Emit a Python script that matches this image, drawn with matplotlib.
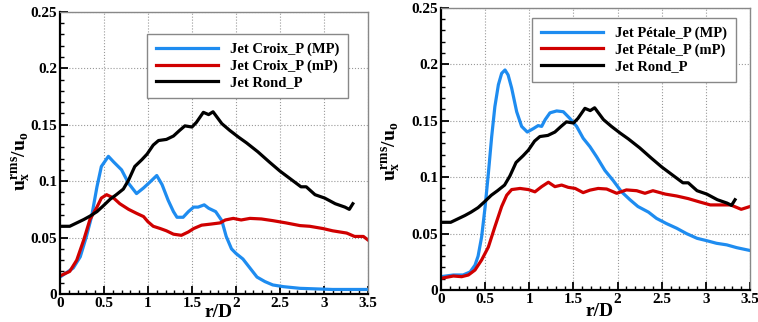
import matplotlib
matplotlib.use("Agg")
import matplotlib.pyplot as plt
from matplotlib.ticker import MultipleLocator

plt.rcParams["font.family"] = ["Liberation Serif", "DejaVu Serif"]
plt.rcParams["font.weight"] = "bold"
plt.rcParams["mathtext.fontset"] = "custom"
plt.rcParams["mathtext.rm"] = "Liberation Serif:bold"
plt.rcParams["mathtext.it"] = "Liberation Serif:bold"
plt.rcParams["mathtext.bf"] = "Liberation Serif:bold"

# --- data (r/D vs u_x^rms/u_o) ---
rond_x = [0, 0.11, 0.19, 0.27, 0.34, 0.42, 0.49, 0.57, 0.64, 0.72, 0.78, 0.85,
          0.93, 0.99, 1.06, 1.12, 1.21, 1.29, 1.36, 1.42, 1.50, 1.55, 1.63,
          1.69, 1.74, 1.84, 1.93, 2.03, 2.12, 2.25, 2.38, 2.50, 2.62, 2.74,
          2.80, 2.90, 3.01, 3.13, 3.24, 3.29, 3.33]
rond_y = [0.060, 0.060, 0.063, 0.066, 0.069, 0.073, 0.078, 0.084, 0.088, 0.093,
          0.101, 0.113, 0.119, 0.124, 0.132, 0.136, 0.137, 0.140, 0.145, 0.149,
          0.148, 0.152, 0.161, 0.159, 0.1615, 0.151, 0.145, 0.139, 0.134,
          0.126, 0.117, 0.109, 0.102, 0.095, 0.095, 0.088, 0.085, 0.080,
          0.077, 0.075, 0.080]

croix_mp_x = [0, 0.15, 0.23, 0.30, 0.36, 0.42, 0.47, 0.55, 0.61, 0.70, 0.78,
              0.87, 0.95, 1.02, 1.10, 1.16, 1.23, 1.29, 1.33, 1.40, 1.46, 1.52,
              1.57, 1.64, 1.69, 1.77, 1.84, 1.89, 1.95, 2.00, 2.08, 2.16, 2.24,
              2.33, 2.42, 2.54, 2.73, 3.10, 3.50]
croix_mp_y = [0.015, 0.023, 0.033, 0.051, 0.069, 0.095, 0.113, 0.122, 0.117,
              0.110, 0.098, 0.089, 0.094, 0.099, 0.105, 0.097, 0.083, 0.073,
              0.068, 0.068, 0.073, 0.077, 0.077, 0.079, 0.076, 0.073, 0.065,
              0.051, 0.040, 0.036, 0.031, 0.023, 0.015, 0.011, 0.008, 0.0065,
              0.005, 0.004, 0.004]

croix_mp2_x = [0, 0.11, 0.19, 0.27, 0.34, 0.42, 0.47, 0.53, 0.61, 0.68, 0.78,
               0.87, 0.95, 1.00, 1.06, 1.14, 1.21, 1.29, 1.38, 1.46, 1.52, 1.61,
               1.72, 1.82, 1.88, 1.97, 2.06, 2.16, 2.29, 2.42, 2.57, 2.73, 2.84,
               2.99, 3.10, 3.26, 3.35, 3.45, 3.50]
croix_mp2_y = [0.016, 0.020, 0.030, 0.048, 0.066, 0.077, 0.085, 0.088, 0.085,
               0.080, 0.075, 0.0715, 0.0686, 0.064, 0.060, 0.058, 0.056, 0.053,
               0.052, 0.055, 0.058, 0.061, 0.062, 0.063, 0.0656, 0.067, 0.0656,
               0.067, 0.0665, 0.065, 0.063, 0.0606, 0.060, 0.058, 0.056, 0.054,
               0.051, 0.051, 0.048]

petale_mp_x = [0, 0.14, 0.25, 0.33, 0.385, 0.42, 0.46, 0.50, 0.536, 0.574,
               0.61, 0.65, 0.687, 0.725, 0.76, 0.80, 0.857, 0.913, 0.977, 1.045,
               1.10, 1.14, 1.18, 1.234, 1.31, 1.385, 1.46, 1.536, 1.61, 1.687,
               1.763, 1.856, 1.95, 2.045, 2.14, 2.23, 2.35, 2.44, 2.55, 2.67,
               2.78, 2.90, 3.01, 3.12, 3.236, 3.35, 3.50]
petale_mp_y = [0.0118, 0.0133, 0.0133, 0.016, 0.022, 0.030, 0.047, 0.074,
               0.103, 0.136, 0.1625, 0.182, 0.192, 0.195, 0.1906, 0.179, 0.158,
               0.145, 0.140, 0.143, 0.1457, 0.145, 0.151, 0.157, 0.1587, 0.158,
               0.152, 0.145, 0.1345, 0.127, 0.118, 0.106, 0.097, 0.087, 0.080,
               0.074, 0.069, 0.0635, 0.059, 0.0547, 0.050, 0.0458, 0.0437,
               0.0414, 0.040, 0.0375, 0.035]

petale_mp2_x = [0, 0.14, 0.234, 0.31, 0.385, 0.46, 0.536, 0.61, 0.687, 0.744,
                0.80, 0.895, 0.99, 1.064, 1.14, 1.216, 1.29, 1.366, 1.44, 1.52,
                1.61, 1.687, 1.78, 1.876, 1.99, 2.10, 2.216, 2.31, 2.40, 2.54,
                2.67, 2.80, 2.93, 3.05, 3.16, 3.28, 3.40, 3.50]
petale_mp2_y = [0.0103, 0.0124, 0.0118, 0.0133, 0.0177, 0.0266, 0.038, 0.056,
                0.074, 0.084, 0.089, 0.090, 0.089, 0.087, 0.0916, 0.0955,
                0.0916, 0.093, 0.091, 0.090, 0.0863, 0.0885, 0.090, 0.0895,
                0.0857, 0.0887, 0.088, 0.0857, 0.088, 0.085, 0.0833, 0.081,
                0.078, 0.0754, 0.0754, 0.0754, 0.0715, 0.074]

x_ticks = [0, 0.5, 1, 1.5, 2, 2.5, 3, 3.5]
x_ticklabels = ["0", "0.5", "1", "1.5", "2", "2.5", "3", "3.5"]
y_ticks = [0, 0.05, 0.1, 0.15, 0.2, 0.25]
y_ticklabels = ["0", "0.05", "0.1", "0.15", "0.2", "0.25"]

BLUE = "#1E8CF0"
RED = "#D00000"
BLACK = "black"

fig = plt.figure(figsize=(7.58, 3.22), dpi=100)
ax_l = fig.add_axes([0.0792, 0.087, 0.406, 0.876])
ax_r = fig.add_axes([0.5818, 0.0994, 0.4077, 0.876])


def style(ax, ylab_x, ylab_y, xlab_y):
    ax.set_xlim(0, 3.5)
    ax.set_ylim(0, 0.25)
    ax.set_xticks(x_ticks)
    ax.set_xticklabels(x_ticklabels)
    ax.set_yticks(y_ticks)
    ax.set_yticklabels(y_ticklabels)
    ax.xaxis.set_minor_locator(MultipleLocator(0.1))
    ax.yaxis.set_minor_locator(MultipleLocator(0.01))
    ax.tick_params(which="both", direction="in", top=False, right=False,
                   labelsize=11, pad=2)
    ax.tick_params(which="major", length=6, width=1.3)
    ax.tick_params(which="minor", length=3, width=1.0)
    ax.grid(True, which="major", linestyle=":", color="#999999", linewidth=0.8)
    for s in ("left", "bottom"):
        ax.spines[s].set_linewidth(1.6)
        ax.spines[s].set_color("black")
    for s in ("top", "right"):
        ax.spines[s].set_linewidth(1.0)
        ax.spines[s].set_color("#888888")
    ax.set_axisbelow(True)
    ax.set_ylabel(r"$u_x^{rms}/u_o$", fontsize=14)
    ax.yaxis.set_label_coords(ylab_x, ylab_y)
    ax.text(1.8, xlab_y, "r/D", fontsize=14, fontweight="bold",
            ha="center", va="center", clip_on=False)


def add_legend(ax, anchor):
    leg = ax.legend(loc="upper left", bbox_to_anchor=anchor, fontsize=10.5,
                    handlelength=4.3, handletextpad=0.8, labelspacing=0.22,
                    borderpad=0.6, borderaxespad=0, fancybox=False,
                    framealpha=1)
    leg.get_frame().set_edgecolor("#888888")
    leg.get_frame().set_linewidth(1.0)


lw = 2.3
ax_l.plot(croix_mp_x, croix_mp_y, color=BLUE, lw=lw, label="Jet Croix_P (MP)")
ax_l.plot(croix_mp2_x, croix_mp2_y, color=RED, lw=lw, label="Jet Croix_P (mP)")
ax_l.plot(rond_x, rond_y, color=BLACK, lw=lw, label="Jet Rond_P")
style(ax_l, -0.088, 0.47, -0.016)
add_legend(ax_l, (0.282, 0.922))

ax_r.plot(petale_mp_x, petale_mp_y, color=BLUE, lw=lw, label="Jet Pétale_P (MP)")
ax_r.plot(petale_mp2_x, petale_mp2_y, color=RED, lw=lw, label="Jet Pétale_P (mP)")
ax_r.plot(rond_x, rond_y, color=BLACK, lw=lw, label="Jet Rond_P")
style(ax_r, -0.123, 0.49, -0.019)
add_legend(ax_r, (0.294, 0.965))

fig.savefig("out.png", dpi=100)
